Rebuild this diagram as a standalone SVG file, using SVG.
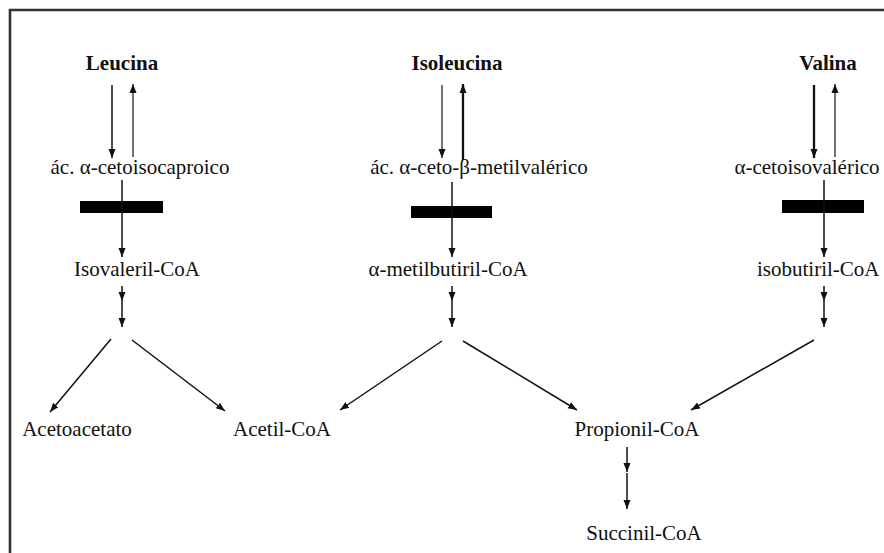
<svg xmlns="http://www.w3.org/2000/svg" width="884" height="553" viewBox="0 0 884 553">
<defs>
<marker id="ah" markerUnits="userSpaceOnUse" markerWidth="10" markerHeight="10" viewBox="0 0 10 10" refX="9" refY="5" orient="auto">
<path d="M0,1.5 L9,5 L0,8.5 Z" fill="#111"/>
</marker>
<style>
text{font-family:"Liberation Serif","Times New Roman",serif;font-size:21px;fill:#111;text-anchor:middle}
.b{font-weight:bold}
.c line{stroke:#111;stroke-width:1.5;marker-end:url(#ah)}
.c line.t{stroke-width:2.3}
.c line.g{stroke:#444}
.bar{fill:#000}
</style>
</defs>
<rect width="884" height="553" fill="#fff"/>
<path d="M10 553 V10 H884" fill="none" stroke="#333" stroke-width="2.6"/>

<g id="leucina"><text class="b" x="122" y="70">Leucina</text></g>
<g id="isoleucina"><text class="b" x="457" y="70">Isoleucina</text></g>
<g id="valina"><text class="b" x="828" y="70">Valina</text></g>

<g id="cetoisocaproico"><text x="140" y="174">ác. α-cetoisocaproico</text></g>
<g id="cetometilvalerico"><text x="479" y="174">ác. α-ceto-β-metilvalérico</text></g>
<g id="cetoisovalerico"><text x="807" y="174">α-cetoisovalérico</text></g>

<g id="isovaleril"><text x="137" y="276">Isovaleril-CoA</text></g>
<g id="metilbutiril"><text x="448" y="276">α-metilbutiril-CoA</text></g>
<g id="isobutiril"><text x="757" y="276" style="text-anchor:start">isobutiril-CoA</text></g>

<g id="acetoacetato"><text x="77" y="436">Acetoacetato</text></g>
<g id="acetilcoa"><text x="282" y="436">Acetil-CoA</text></g>
<g id="propionilcoa"><text x="637" y="436">Propionil-CoA</text></g>
<g id="succinilcoa"><text x="644" y="540">Succinil-CoA</text></g>

<g id="bloqueos">
<rect class="bar" x="80" y="201" width="83" height="12"/>
<rect class="bar" x="411" y="206" width="81" height="12"/>
<rect class="bar" x="782" y="200" width="82" height="13"/>
</g>

<g id="connectors" class="c">
<line x1="112" y1="85" x2="112" y2="158"/>
<line class="g" x1="133" y1="157" x2="133" y2="84"/>
<line class="g" x1="442" y1="85" x2="442" y2="158"/>
<line class="t" x1="463" y1="160" x2="463" y2="84"/>
<line class="t" x1="814" y1="85" x2="814" y2="158"/>
<line class="g" x1="835" y1="157" x2="835" y2="84"/>

<line x1="122" y1="180" x2="122" y2="257"/>
<line x1="452" y1="182" x2="452" y2="257"/>
<line x1="824" y1="180" x2="824" y2="257"/>

<line x1="122" y1="286" x2="122" y2="301"/>
<line x1="122" y1="301" x2="122" y2="327"/>
<line x1="452" y1="286" x2="452" y2="301"/>
<line x1="452" y1="301" x2="452" y2="327"/>
<line x1="824" y1="286" x2="824" y2="301"/>
<line x1="824" y1="301" x2="824" y2="327"/>

<line x1="111" y1="339" x2="50" y2="412"/>
<line x1="132" y1="340" x2="225" y2="411"/>
<line x1="442" y1="341" x2="340" y2="410"/>
<line x1="463" y1="341" x2="577" y2="410"/>
<line x1="814" y1="340" x2="691" y2="410"/>

<line x1="627" y1="447" x2="627" y2="472"/>
<line x1="627" y1="473" x2="627" y2="509"/>
</g>
</svg>
